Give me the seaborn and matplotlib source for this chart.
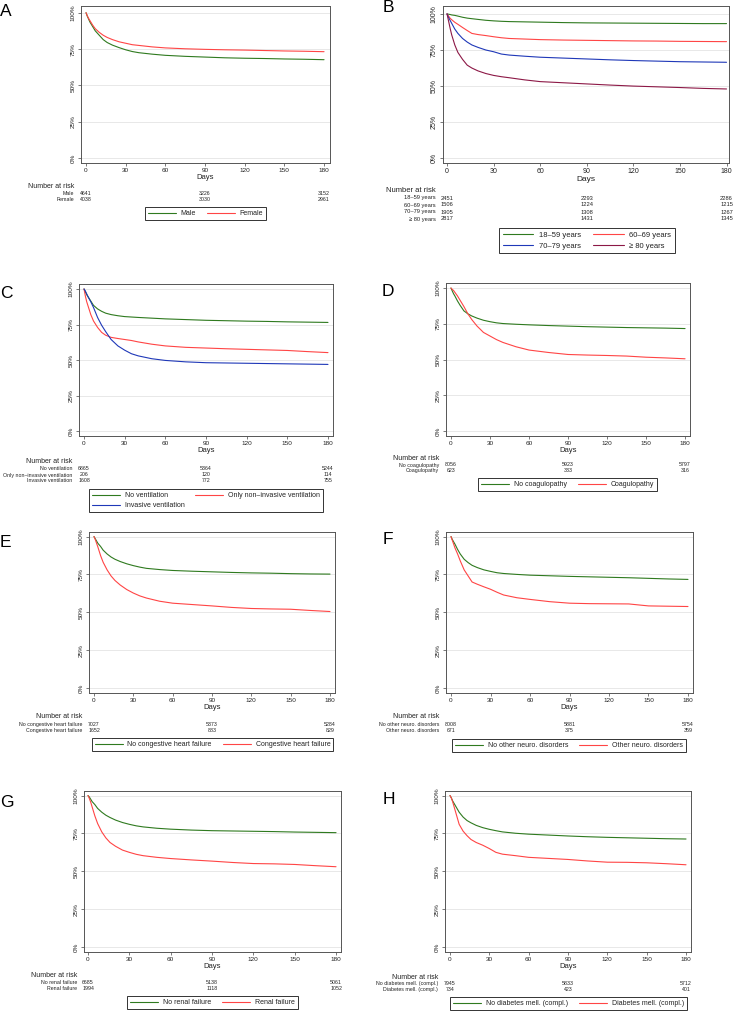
import matplotlib
matplotlib.use("Agg")
import matplotlib.pyplot as plt
import matplotlib.transforms as mtransforms
import seaborn as sns
import pandas as pd

DAYS = [0, 1, 2, 3, 5, 7, 10, 13, 16, 20, 25, 30, 35, 40, 50, 60, 75, 90, 105, 120, 135, 150, 165, 180]
RISK_DAYS = [0, 90, 180]

# A - sex
A_MALE = [1.0, 0.975, 0.955, 0.935, 0.905, 0.875, 0.845, 0.815, 0.795, 0.777, 0.76, 0.745, 0.733, 0.725,
          0.715, 0.707, 0.70, 0.695, 0.69, 0.687, 0.685, 0.682, 0.68, 0.677]
A_FEMALE = [1.0, 0.978, 0.96, 0.945, 0.915, 0.89, 0.865, 0.845, 0.83, 0.815, 0.80, 0.79, 0.78, 0.775,
            0.765, 0.758, 0.752, 0.748, 0.745, 0.743, 0.74, 0.737, 0.735, 0.732]
A_RISK = [[4641, 3226, 3152], [4038, 3030, 2961]]

# B - age groups
B_1859 = [1.0, 0.998, 0.996, 0.993, 0.99, 0.985, 0.977, 0.971, 0.967, 0.962, 0.956, 0.952, 0.949, 0.947,
          0.945, 0.943, 0.94, 0.938, 0.937, 0.936, 0.935, 0.934, 0.933, 0.933]
B_6069 = [1.0, 0.985, 0.97, 0.96, 0.942, 0.928, 0.906, 0.885, 0.865, 0.857, 0.85, 0.842, 0.835, 0.83,
          0.826, 0.822, 0.819, 0.817, 0.815, 0.813, 0.812, 0.81, 0.809, 0.808]
B_7079 = [1.0, 0.975, 0.955, 0.935, 0.895, 0.865, 0.83, 0.805, 0.785, 0.768, 0.75, 0.738, 0.722, 0.715,
          0.707, 0.70, 0.694, 0.688, 0.682, 0.677, 0.673, 0.669, 0.667, 0.665]
B_80 = [1.0, 0.95, 0.90, 0.855, 0.785, 0.733, 0.685, 0.645, 0.625, 0.605, 0.587, 0.574, 0.565, 0.558,
        0.543, 0.531, 0.523, 0.515, 0.507, 0.50, 0.495, 0.49, 0.484, 0.48]
B_RISK = [[2451, 2293, 2286], [1506, 1224, 1215], [1905, 1308, 1267], [2817, 1431, 1345]]

# C - ventilation
C_NOVENT = [1.0, 0.98, 0.96, 0.945, 0.915, 0.885, 0.86, 0.843, 0.83, 0.82, 0.812, 0.806, 0.803, 0.80,
            0.795, 0.79, 0.785, 0.78, 0.777, 0.774, 0.772, 0.769, 0.767, 0.765]
C_NIV = [1.0, 0.95, 0.91, 0.88, 0.82, 0.775, 0.73, 0.695, 0.675, 0.66, 0.652, 0.645, 0.638, 0.628,
         0.612, 0.60, 0.59, 0.585, 0.58, 0.576, 0.572, 0.568, 0.56, 0.553]
C_INV = [1.0, 0.985, 0.965, 0.945, 0.91, 0.87, 0.80, 0.745, 0.70, 0.645, 0.60, 0.57, 0.545, 0.53,
         0.51, 0.498, 0.488, 0.482, 0.48, 0.478, 0.476, 0.474, 0.472, 0.47]
C_RISK = [[6865, 5364, 5244], [206, 120, 114], [1608, 772, 755]]

# D - coagulopathy
D_NO = [1.0, 0.98, 0.96, 0.945, 0.91, 0.88, 0.84, 0.82, 0.805, 0.79, 0.775, 0.765, 0.757, 0.752,
        0.747, 0.743, 0.738, 0.734, 0.73, 0.727, 0.724, 0.722, 0.72, 0.717]
D_YES = [1.0, 0.99, 0.983, 0.97, 0.945, 0.915, 0.87, 0.82, 0.78, 0.735, 0.69, 0.665, 0.64, 0.62,
         0.59, 0.567, 0.55, 0.536, 0.532, 0.529, 0.525, 0.517, 0.512, 0.506]
D_RISK = [[8056, 5923, 5797], [623, 333, 316]]

# E - congestive heart failure
E_NO = [1.0, 0.985, 0.97, 0.955, 0.935, 0.91, 0.885, 0.865, 0.85, 0.835, 0.82, 0.808, 0.798, 0.79,
        0.782, 0.776, 0.771, 0.767, 0.763, 0.76, 0.758, 0.755, 0.753, 0.752]
E_YES = [1.0, 0.98, 0.955, 0.93, 0.875, 0.83, 0.78, 0.74, 0.71, 0.68, 0.65, 0.627, 0.608, 0.594,
         0.573, 0.56, 0.551, 0.542, 0.532, 0.525, 0.522, 0.52, 0.512, 0.505]
E_RISK = [[7027, 5373, 5284], [1652, 883, 829]]

# F - other neurological disorders
F_NO = [1.0, 0.98, 0.965, 0.95, 0.915, 0.885, 0.85, 0.828, 0.81, 0.795, 0.78, 0.77, 0.761, 0.756,
        0.75, 0.745, 0.741, 0.737, 0.734, 0.731, 0.728, 0.724, 0.72, 0.717]
F_YES = [1.0, 0.975, 0.95, 0.925, 0.885, 0.84, 0.78, 0.74, 0.70, 0.685, 0.668, 0.652, 0.632, 0.614,
         0.596, 0.585, 0.57, 0.56, 0.557, 0.556, 0.555, 0.542, 0.54, 0.538]
F_RISK = [[8008, 5881, 5754], [671, 375, 359]]

# G - renal failure
G_NO = [1.0, 0.99, 0.975, 0.96, 0.94, 0.915, 0.89, 0.87, 0.855, 0.838, 0.822, 0.81, 0.80, 0.793,
        0.784, 0.778, 0.772, 0.768, 0.766, 0.764, 0.762, 0.759, 0.757, 0.755]
G_YES = [1.0, 0.98, 0.955, 0.925, 0.865, 0.815, 0.76, 0.72, 0.69, 0.665, 0.64, 0.625, 0.612, 0.603,
         0.592, 0.584, 0.575, 0.567, 0.558, 0.551, 0.549, 0.545, 0.537, 0.53]
G_RISK = [[6685, 5138, 5061], [1994, 1118, 1052]]

# H - diabetes mellitus (complicated)
H_NO = [1.0, 0.985, 0.965, 0.95, 0.92, 0.89, 0.858, 0.835, 0.82, 0.803, 0.788, 0.777, 0.768, 0.76,
        0.751, 0.745, 0.739, 0.733, 0.728, 0.724, 0.721, 0.718, 0.715, 0.713]
H_YES = [1.0, 0.985, 0.96, 0.93, 0.87, 0.81, 0.765, 0.735, 0.71, 0.69, 0.672, 0.65, 0.625, 0.613,
         0.603, 0.592, 0.585, 0.578, 0.568, 0.56, 0.559, 0.556, 0.55, 0.543]
H_RISK = [[7945, 5833, 5712], [734, 423, 401]]

GREEN = "#2f7a1f"
RED = "#ff4545"
BLUE = "#1f38b8"
MAROON = "#8c1846"

W, H = 733, 1013

panels = [
    dict(letter="A", ax=(81, 6, 330, 163), xlim=(-3.8, 184.5), ytop=1.046,
         series=[("Male", A_MALE, GREEN), ("Female", A_FEMALE, RED)], risk=A_RISK,
         nar=186, row0=193, dy=6.3, leg=(143, 207, 268, 221), order=[0, 1], lpos=(0, 11), s=1.0),
    dict(letter="B", ax=(443, 6, 729, 163), xlim=(-2.6, 181.6), ytop=1.055,
         series=[("18–59 years", B_1859, GREEN), ("60–69 years", B_6069, RED),
                 ("70–79 years", B_7079, BLUE), ("≥ 80 years", B_80, MAROON)], risk=B_RISK,
         nar=191, row0=198, dy=7, leg=(494, 228, 680, 257), order=[0, 2, 1, 3], lpos=(383, 8), s=1.1),
    dict(letter="C", ax=(79, 284, 333, 436), xlim=(-3.7, 183.7), ytop=1.035,
         series=[("No ventilation", C_NOVENT, GREEN), ("Only non–invasive ventilation", C_NIV, RED),
                 ("Invasive ventilation", C_INV, BLUE)], risk=C_RISK,
         nar=461, row0=469, dy=6, leg=(81, 489, 331, 517), order=[0, 2, 1], lpos=(0, 293), s=1.0),
    dict(letter="D", ax=(446, 283, 690, 436), xlim=(-3.8, 183.8), ytop=1.035,
         series=[("No coagulopathy", D_NO, GREEN), ("Coagulopathy", D_YES, RED)], risk=D_RISK,
         nar=458, row0=465, dy=5.5, leg=(480, 478, 655, 492), order=[0, 1], lpos=(382, 291), s=1.0),
    dict(letter="E", ax=(89, 532, 335, 693), xlim=(-3.8, 183.8), ytop=1.03,
         series=[("No congestive heart failure", E_NO, GREEN), ("Congestive heart failure", E_YES, RED)], risk=E_RISK,
         nar=717, row0=724, dy=6, leg=(92, 738, 333, 753), order=[0, 1], lpos=(0, 542), s=1.0),
    dict(letter="F", ax=(446, 532, 693, 693), xlim=(-3.8, 183.8), ytop=1.03,
         series=[("No other neuro. disorders", F_NO, GREEN), ("Other neuro. disorders", F_YES, RED)], risk=F_RISK,
         nar=717, row0=724, dy=6, leg=(448, 739, 690, 753), order=[0, 1], lpos=(383, 539), s=1.0),
    dict(letter="G", ax=(84, 791, 341, 952), xlim=(-2.9, 183.6), ytop=1.03,
         series=[("No renal failure", G_NO, GREEN), ("Renal failure", G_YES, RED)], risk=G_RISK,
         nar=975, row0=982, dy=6, leg=(125, 996, 300, 1010), order=[0, 1], lpos=(0, 802), s=1.0),
    dict(letter="H", ax=(445, 791, 691, 952), xlim=(-3.8, 183.8), ytop=1.03,
         series=[("No diabetes mell. (compl.)", H_NO, GREEN), ("Diabetes mell. (compl.)", H_YES, RED)], risk=H_RISK,
         nar=977, row0=983, dy=6, leg=(448, 997, 689, 1012), order=[0, 1], lpos=(383, 799), s=1.0),
]

sns.set_theme(style="white")
plt.rcParams["font.family"] = ["Liberation Sans", "DejaVu Sans"]

fig = plt.figure(figsize=(W / 100, H / 100), dpi=100)
fig.patch.set_facecolor("white")

for p in panels:
    L, T, R, B = p["ax"]
    s = p["s"]
    ax = fig.add_axes([L / W, 1 - B / H, (R - L) / W, (B - T) / H])

    rows = []
    for name, vals, col in p["series"]:
        for d, v in zip(DAYS, vals):
            rows.append({"day": d, "surv": v, "group": name})
    df = pd.DataFrame(rows)
    names = [n for n, _, _ in p["series"]]
    pal = {n: c for n, _, c in p["series"]}
    sns.lineplot(data=df, x="day", y="surv", hue="group", hue_order=names,
                 palette=pal, legend=False, ax=ax, linewidth=0.8)

    ax.set_xlim(*p["xlim"])
    ax.set_ylim(-0.033, p["ytop"])
    ax.set_xticks([0, 30, 60, 90, 120, 150, 180])
    ax.set_yticks([0, 0.25, 0.5, 0.75, 1.0])
    ax.set_yticklabels(["0%", "25%", "50%", "75%", "100%"], rotation=90, va="center")
    ax.yaxis.grid(True, color="#e8e8e8", linewidth=0.7)
    ax.xaxis.grid(False)
    ax.set_axisbelow(True)
    ax.tick_params(axis="both", which="major", length=2.2, width=0.5, color="#444444",
                   labelsize=4.6 * s, pad=1.5, labelcolor="#222222")
    ax.tick_params(axis="x", bottom=True)
    ax.tick_params(axis="y", left=True)
    for sp in ax.spines.values():
        sp.set_visible(True)
        sp.set_color("#555555")
        sp.set_linewidth(0.7)
    ax.set_xlabel("Days", fontsize=5.5 * s, labelpad=0.3, color="#222222")
    ax.set_ylabel("")

    # number at risk table under the plot
    tr = mtransforms.blended_transform_factory(ax.transData, fig.transFigure)
    lab_x = (L - 7) / W
    fig.text(lab_x, 1 - p["nar"] / H, "Number at risk", ha="right", va="center",
             fontsize=5.0 * s, color="#222222")
    for i, (name, _, _) in enumerate(p["series"]):
        yy = 1 - (p["row0"] + i * p["dy"]) / H
        fig.text(lab_x, yy, name, ha="right", va="center", fontsize=3.8 * s, color="#222222")
        for d, n in zip(RISK_DAYS, p["risk"][i]):
            ax.text(d, yy, str(n), transform=tr, ha="center", va="center",
                    fontsize=3.8 * s, color="#222222")

    # legend box below the table
    lines = ax.get_lines()[:len(names)]
    hs = [lines[k] for k in p["order"]]
    ls = [names[k] for k in p["order"]]
    x0, y0, x1, y1 = p["leg"]
    leg = ax.legend(hs, ls, ncol=2, loc="upper center",
                    bbox_to_anchor=((x0 + x1) / 2 / W, 1 - y0 / H),
                    bbox_transform=fig.transFigure, fontsize=5.0 * s, frameon=True,
                    fancybox=False, framealpha=1, edgecolor="#333333", handlelength=4.0,
                    handletextpad=0.7, borderpad=0.45, labelspacing=0.45, borderaxespad=0,
                    columnspacing=1.6)
    leg.get_frame().set_linewidth(0.7)
    for t in leg.get_texts():
        t.set_color("#222222")

    fig.text(p["lpos"][0] / W, 1 - p["lpos"][1] / H, p["letter"], ha="left", va="center",
             fontsize=12.5, color="black")

fig.savefig("out.png", dpi=100, facecolor="white")
